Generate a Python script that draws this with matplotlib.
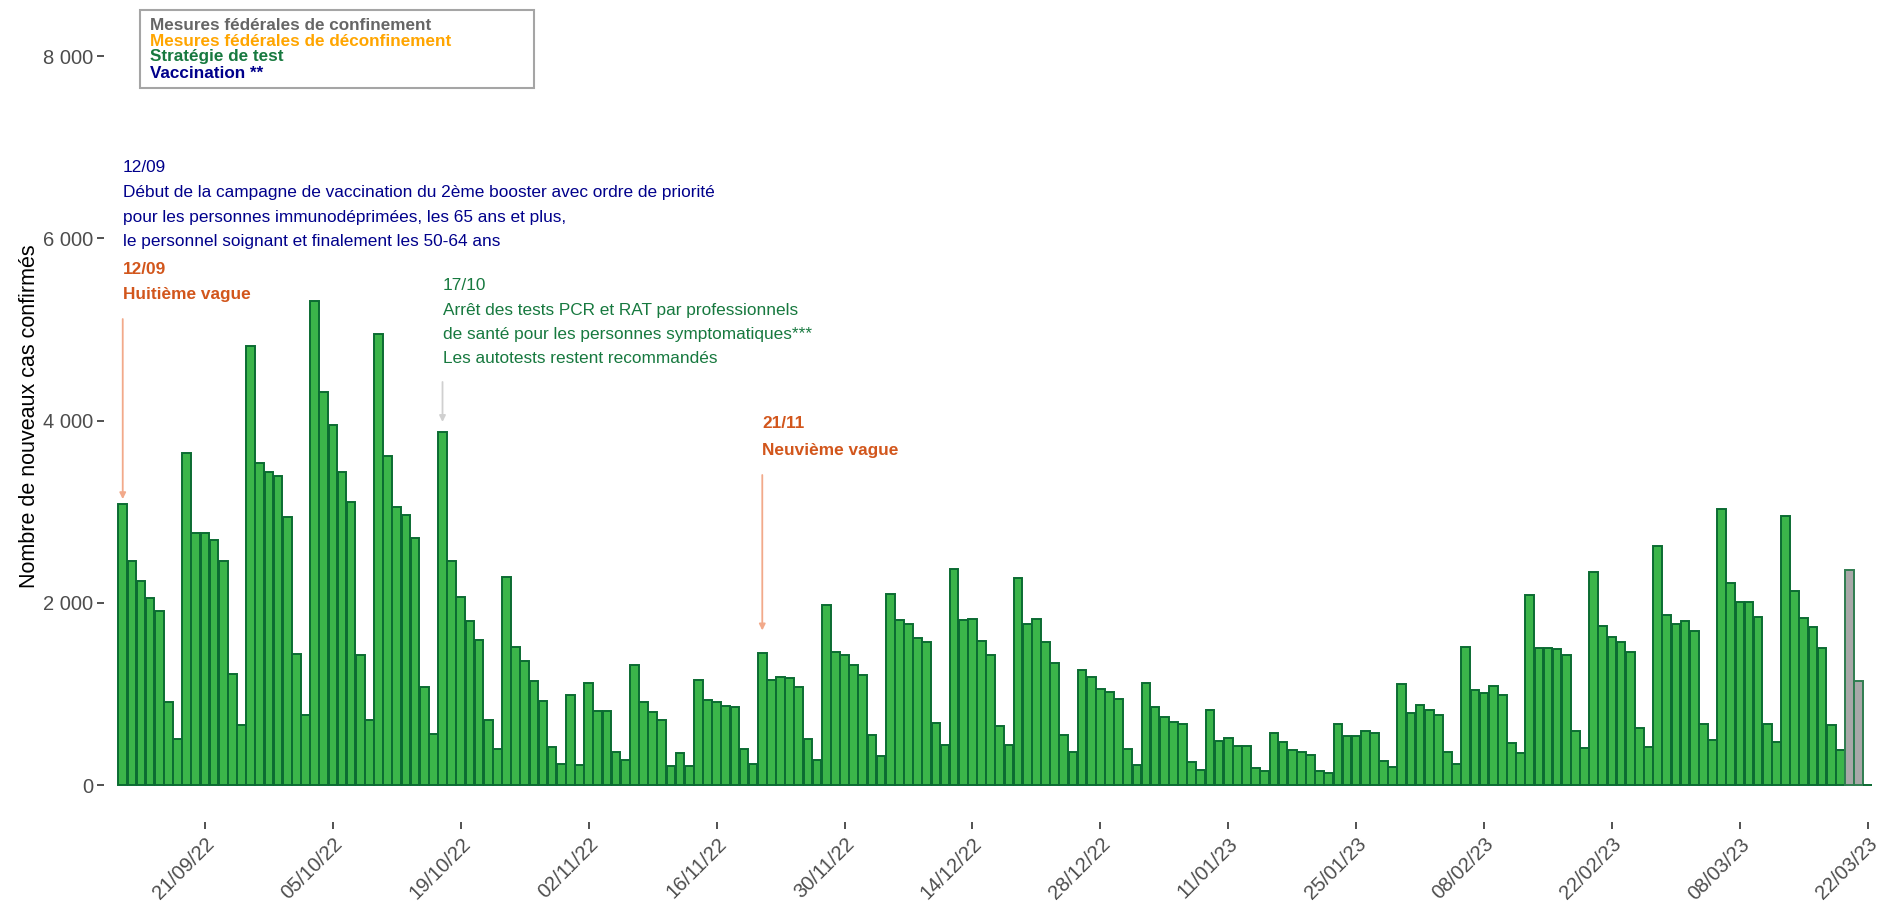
import numpy as np
import pandas as pd
import matplotlib
matplotlib.use("Agg")
import matplotlib.pyplot as plt
from matplotlib.patches import Rectangle
from matplotlib.ticker import FuncFormatter


# ---------------------------------------------------------------------------
# Data
# ---------------------------------------------------------------------------

start_date = "2022-09-12"
end_date   = "2023-03-22"

new_cases = [
    3088, 2454, 2238, 2055, 1905, 908, 505, 3645, 2769, 2769, 2692, 2458, 1220, 663,
    4820, 3538, 3432, 3388, 2945, 1440, 769, 5315, 4315, 3949, 3432, 3103, 1432, 711,
    4952, 3608, 3055, 2960, 2714, 1081, 560,
    3875, 2458, 2062, 1795, 1597, 714, 396, 2282, 1513, 1359, 1146, 927, 421, 231,
    993, 220, 1121, 817, 810, 366, 275, 1322, 908, 806, 714, 205, 352, 205, 1158,
    934, 916, 864, 853, 396, 231, 1447, 1154, 1190, 1172, 1081, 505, 278,
    1971, 1458, 1432, 1319, 1212, 553, 322, 2099, 1806, 1769, 1612, 1568, 678, 440,
    2374, 1806, 1817, 1586, 1432, 652, 443,
    2275, 1769, 1817, 1575, 1337, 553, 366, 1267, 1183, 1055, 1026, 945, 396, 223,
    1121, 853, 751, 696, 670, 249, 168, 828, 487, 516, 425, 425, 183, 150,
    568, 469, 388, 366, 333, 158, 128, 670, 535, 535, 597, 568, 267, 194,
    1110, 788, 883, 828, 773, 359, 231, 1520, 1044, 1007, 1088, 993, 458, 348,
    2088, 1505, 1505, 1495, 1429, 597, 403, 2337, 1740, 1630, 1568, 1465, 626, 414,
    2619, 1868, 1762, 1795, 1689, 670, 498, 3033, 2216, 2007, 2007, 1842, 670, 469,
    2949, 2125, 1832, 1733, 1505, 663, 388, 2363, 1147, 0,
]
n_incomplete = 3          # last days, not yet consolidated (grey)

legend_labels = [
    "Mesures fédérales de confinement",
    "Mesures fédérales de déconfinement",
    "Stratégie de test",
    "Vaccination **",
]
legend_colors = ["#666666", "#FFA500", "#17793F", "#00008B"]

vacc_date  = "2022-09-12"
vacc_lines = [
    "12/09",
    "Début de la campagne de vaccination du 2ème booster avec ordre de priorité",
    "pour les personnes immunodéprimées, les 65 ans et plus,",
    "le personnel soignant et finalement les 50-64 ans",
]
wave8_date  = "2022-09-12"
wave8_lines = ["12/09", "Huitième vague"]
test_date   = "2022-10-17"
test_lines  = [
    "17/10",
    "Arrêt des tests PCR et RAT par professionnels",
    "de santé pour les personnes symptomatiques***",
    "Les autotests restent recommandés",
]
wave9_date  = "2022-11-21"
wave9_lines = ["21/11", "Neuvième vague"]


# ---------------------------------------------------------------------------
# Style
# ---------------------------------------------------------------------------

BAR_FILL   = "#3BB54A"
BAR_EDGE   = "#0B6B32"
GREY_FILL  = "#A8A8A8"
GREY_EDGE  = "#2F7D50"
NAVY       = "#00008B"
WAVE       = "#D2561C"
WAVE_ARROW = "#F2A98A"
TEST       = "#17793F"
TEST_ARROW = "#D0D0D0"
TICK_GREY  = "#4D4D4D"
NOTE_SIZE  = 12.4

plt.rcParams["font.family"] = ["Liberation Sans", "DejaVu Sans"]


def add_note(ax, x, y_top, lines, color, step, bold=False):
    """Stack text lines downwards from y_top (data units)."""
    for i, line in enumerate(lines):
        ax.text(x, y_top - i * step, line, color=color, fontsize=NOTE_SIZE,
                fontweight="bold" if bold else "normal", ha="left", va="center")


def add_arrow(ax, x, y_from, y_to, color):
    ax.annotate("", xy=(x, y_to), xytext=(x, y_from),
                arrowprops=dict(arrowstyle="-|>", color=color, lw=1.3,
                                mutation_scale=9, shrinkA=0, shrinkB=0))


def main() -> None:
    dates = pd.date_range(start_date, end_date, freq="D")
    x = np.arange(len(dates))
    vals = np.asarray(new_cases, dtype=float)

    fill = [BAR_FILL] * len(x)
    edge = [BAR_EDGE] * len(x)
    for i in range(len(x) - n_incomplete, len(x) - 1):
        fill[i] = GREY_FILL
        edge[i] = GREY_EDGE

    fig = plt.figure(figsize=(18.81, 9.09), dpi=100)
    ax = fig.add_axes([104 / 1881, 87 / 909, 1772 / 1881, 812 / 909])

    ax.bar(x, vals, width=0.95, color=fill, edgecolor=edge, linewidth=1.4)

    ax.set_xlim(-2.05, len(x) - 0.1)
    ax.set_ylim(-406, 8507)

    # axes cosmetics
    for s in ax.spines.values():
        s.set_visible(False)
    ax.set_yticks([0, 2000, 4000, 6000, 8000])
    ax.yaxis.set_major_formatter(
        FuncFormatter(lambda v, _: f"{int(v):,}".replace(",", " ")))
    tick_idx = np.arange(9, len(x), 14)
    ax.set_xticks(tick_idx)
    ax.set_xticklabels(dates[tick_idx].strftime("%d/%m/%y"), rotation=45,
                       ha="right", va="top", rotation_mode="anchor")
    ax.tick_params(axis="both", colors="#333333", labelcolor=TICK_GREY,
                   labelsize=14.5, length=5, width=1.2)
    ax.tick_params(axis="x", pad=4)
    ax.tick_params(axis="y", pad=3)
    ax.set_ylabel("Nombre de nouveaux cas confirmés", fontsize=15.5,
                  color="black", labelpad=2)

    # annotations
    xi = lambda d: dates.get_loc(pd.Timestamp(d))

    add_note(ax, xi(vacc_date), 6773, vacc_lines, NAVY, 270)
    add_note(ax, xi(wave8_date), 5664, wave8_lines, WAVE, 285, bold=True)
    add_arrow(ax, xi(wave8_date), 5115, vals[xi(wave8_date)] + 50, WAVE_ARROW)

    add_note(ax, xi(test_date), 5478, test_lines, TEST, 264)
    add_arrow(ax, xi(test_date), 4424, vals[xi(test_date)] + 110, TEST_ARROW)

    add_note(ax, xi(wave9_date), 3963, wave9_lines, WAVE, 286, bold=True)
    add_arrow(ax, xi(wave9_date), 3403, vals[xi(wave9_date)] + 250, WAVE_ARROW)

    # legend box (figure coords)
    fig.patches.append(Rectangle((140 / 1881, 821 / 909), 394 / 1881, 78 / 909,
                                 transform=fig.transFigure, fill=False,
                                 edgecolor="#A5A5A5", linewidth=1.5))
    for i, (lab, col) in enumerate(zip(legend_labels, legend_colors)):
        fig.text(150 / 1881, (909 - 25 - i * 16) / 909, lab, color=col,
                 fontsize=12.3, fontweight="bold", ha="left", va="center")

    fig.savefig("out.png", dpi=100)


if __name__ == "__main__":
    main()
